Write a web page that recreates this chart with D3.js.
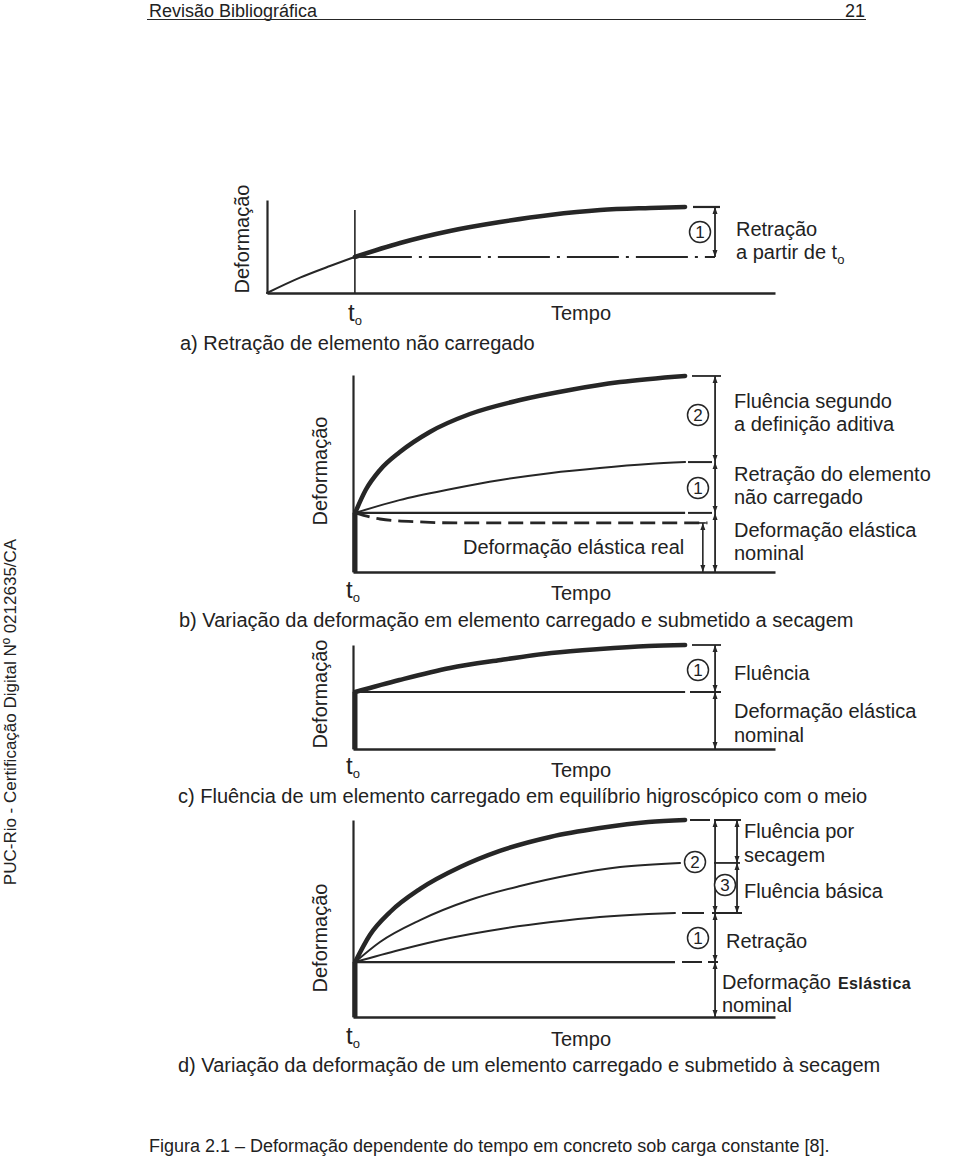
<!DOCTYPE html>
<html>
<head>
<meta charset="utf-8">
<script src="https://cdn.jsdelivr.net/npm/d3@7/dist/d3.min.js"></script>
<style>
  html, body { margin: 0; padding: 0; background: #fff; }
  svg { display: block; }
  text { font-family: "Liberation Sans", Arial, sans-serif; fill: #222; }
</style>
</head>
<body>
<svg id="chart" width="960" height="1156"></svg>
<script>
// ---------------- DATA (normalised units: time 0-100, deformation 0-100 per panel) ----------------
// Panel a) shrinkage of unloaded element
const aTime      = [0, 6.5, 12.4, 17.3, 26.2, 36, 45.9, 55.7, 65.6, 75.4, 82.3];
const aShrinkage = [0, 16.5, 29, 38.7, 53.8, 66.7, 76.3, 83.9, 89.2, 91.4, 92.5];
const aT0 = 17.3;

// Panel b) loaded + drying
const bTotalTime   = [0.5, 3, 6.4, 11.1, 18.2, 27.7, 39.6, 51.4, 63.3, 78.7];
const bTotal       = [30, 41.6, 51.8, 60.9, 71.1, 80.2, 87.3, 92.4, 96.4, 99.5];
const bShrinkTime  = [0.5, 11, 23, 35, 47, 58.5, 70, 78.7];
const bShrink      = [30, 36.5, 42, 46.7, 50.3, 52.8, 54.8, 55.8];
const bElasticNominal = 30;
const bRealTime    = [0.5, 6.4, 15.9, 25.4, 84];
const bRealElastic = [30, 26.9, 25.4, 24.9, 24.9];

// Panel c) creep in hygral equilibrium
const cTime  = [0.5, 11, 23, 35, 47, 58.5, 70, 78.7];
const cCreep = [54.8, 66.3, 77.9, 85.6, 92.3, 96.2, 99, 100];
const cElasticNominal = 54.8;

// Panel d) loaded + drying, decomposed
const dTotalTime = [0.5, 4, 8.8, 15.9, 25.4, 34.8, 46.7, 58.5, 70, 78.7];
const dTotal     = [27.9, 41.6, 53.3, 65, 76.1, 84.3, 91.4, 95.9, 99, 100];
const dBasicTime = [0.5, 6.4, 15.9, 27.7, 39.6, 51.4, 63.3, 77.5];
const dBasic     = [27.9, 38.1, 49.2, 59.4, 66.5, 72.1, 76.1, 78.2];
const dShrinkTime= [0.5, 11, 23, 35, 47, 58.5, 70, 76.3];
const dShrink    = [27.9, 34, 40.1, 44.7, 48.2, 50.8, 52.3, 52.8];
const dElasticNominal = 27.9;

// Text labels
const axisY = "Deformação";
const axisX = "Tempo";
const captions = [
  "a) Retração de elemento não carregado",
  "b) Variação da deformação em elemento carregado e submetido a secagem",
  "c) Fluência de um elemento carregado em equilíbrio higroscópico com o meio",
  "d) Variação da deformação de um elemento carregado e submetido à secagem"
];

// ---------------- DRAWING ----------------
const svg = d3.select("#chart");
const INK = "#262626";
const zip = (xs, ys) => xs.map((x, i) => [x, ys[i]]);

function makeScales(x0, x1, yBottom, yTop) {
  return {
    x: d3.scaleLinear().domain([0, 100]).range([x0, x1]),
    y: d3.scaleLinear().domain([0, 100]).range([yBottom, yTop])
  };
}
function curve(g, s, pts, w, dash) {
  const line = d3.line().x(d => s.x(d[0])).y(d => s.y(d[1])).curve(d3.curveMonotoneX);
  const p = g.append("path").attr("d", line(pts)).attr("fill", "none")
    .attr("stroke", INK).attr("stroke-width", w).attr("stroke-linecap", "round");
  if (dash) p.attr("stroke-dasharray", dash).attr("stroke-linecap", "butt");
  return p;
}
function seg(g, x1, y1, x2, y2, w, dash) {
  const l = g.append("line").attr("x1", x1).attr("y1", y1).attr("x2", x2).attr("y2", y2)
    .attr("stroke", INK).attr("stroke-width", w || 1.6);
  if (dash) l.attr("stroke-dasharray", dash);
  return l;
}
function arrowHead(g, x, y, dir) { // dir: -1 up, 1 down
  g.append("path").attr("d", `M${x},${y} L${x - 2.5},${y - dir * 7} L${x + 2.5},${y - dir * 7} Z`).attr("fill", INK);
}
function bracket(g, x, yTop, yBot, w) {
  seg(g, x, yTop, x, yBot, w || 1.8);
  arrowHead(g, x, yTop, -1);
  arrowHead(g, x, yBot, 1);
}
function txt(g, x, y, s, opts) {
  opts = opts || {};
  const t = g.append("text").attr("x", x).attr("y", y).attr("font-size", opts.size || 20).text(s);
  if (opts.weight) t.attr("font-weight", opts.weight);
  if (opts.anchor) t.attr("text-anchor", opts.anchor);
  return t;
}
function circled(g, cx, cy, n) {
  g.append("circle").attr("cx", cx).attr("cy", cy).attr("r", 10.5).attr("fill", "#fff")
    .attr("stroke", INK).attr("stroke-width", 1.5);
  g.append("text").attr("x", cx).attr("y", cy + 6).attr("text-anchor", "middle")
    .attr("font-size", 17).text(n);
}
function axes(g, s, yTopPx) {
  const xa = d3.axisBottom(s.x).tickValues([]).tickSizeOuter(0);
  const gx = g.append("g").attr("transform", `translate(0,${s.y(0)})`).call(xa);
  gx.select(".domain").attr("stroke", INK).attr("stroke-width", 2.6);
  const ya = d3.axisLeft(s.y.copy().range([s.y(0), yTopPx])).tickValues([]).tickSizeOuter(0);
  const gy = g.append("g").attr("transform", `translate(${s.x(0)},0)`).call(ya);
  gy.select(".domain").attr("stroke", INK).attr("stroke-width", 2.2);
}
function t0Label(g, x, y) {
  const t = g.append("text").attr("x", x).attr("y", y).attr("font-size", 24).attr("text-anchor", "middle");
  t.append("tspan").text("t");
  t.append("tspan").attr("font-size", 13).attr("dy", 4).text("o");
}
function yTitle(g, x, yc) {
  g.append("text").attr("transform", `translate(${x},${yc}) rotate(-90)`)
    .attr("text-anchor", "middle").attr("font-size", 20).text(axisY);
}

// Header
txt(svg, 149, 17, "Revisão Bibliográfica", { size: 18 });
txt(svg, 865, 17, "21", { size: 18, anchor: "end" });
seg(svg, 147, 19.5, 866, 19.5, 1.2);

// Side stamp
svg.append("text").attr("transform", "translate(16,712) rotate(-90)").attr("text-anchor", "middle")
  .attr("font-size", 17).attr("fill", "#111").text("PUC-Rio - Certificação Digital Nº 0212635/CA");

// Footer
txt(svg, 149, 1152, "Figura 2.1 – Deformação dependente do tempo em concreto sob carga constante [8].", { size: 18 });

// ---------- Panel a ----------
{
  const g = svg.append("g");
  const s = makeScales(267, 775, 293, 200);
  axes(g, s, 200);
  seg(g, s.x(aT0), 210, s.x(aT0), s.y(0), 1.6);
  const pts = zip(aTime, aShrinkage);
  curve(g, s, pts, 2);
  curve(g, s, pts.filter(d => d[0] >= aT0), 4.5);
  const yT0 = s.y(aShrinkage[aTime.indexOf(aT0)]);
  const yEnd = s.y(aShrinkage[aShrinkage.length - 1]);
  seg(g, s.x(aT0) + 5, yT0, 715, yT0, 1.8, "52,7,3,7");
  seg(g, 693, yEnd, 720, yEnd, 2.2);
  bracket(g, 715, yEnd, yT0, 1.8);
  circled(g, 700, 232, "1");
  txt(g, 736, 236, "Retração");
  const t = txt(g, 736, 259, "a partir de t");
  t.append("tspan").attr("font-size", 13).attr("dy", 5).text("o");
  yTitle(g, 249, 239);
  t0Label(g, 355, 321);
  txt(g, 551, 320, axisX);
  txt(g, 180, 350, captions[0]);
}

// ---------- Panel b ----------
{
  const g = svg.append("g");
  const s = makeScales(353, 775, 572, 375);
  axes(g, s, 375);
  seg(g, 355, s.y(bElasticNominal), 355, s.y(0), 5);
  curve(g, s, zip(bRealTime, bRealElastic), 2.8, "15,7");
  seg(g, s.x(0.5), s.y(bElasticNominal), s.x(78.7), s.y(bElasticNominal), 2.4);
  curve(g, s, zip(bShrinkTime, bShrink), 2);
  curve(g, s, zip(bTotalTime, bTotal), 4.5);
  const xb = s.x(85.8);
  seg(g, 692, s.y(99.5), 721, s.y(99.5), 1.8);
  seg(g, 688, s.y(55.8), 712, s.y(55.8), 2);
  seg(g, 688, s.y(bElasticNominal), 712, s.y(bElasticNominal), 2);
  bracket(g, xb, s.y(99.5), s.y(55.8));
  bracket(g, xb, s.y(55.8), s.y(bElasticNominal));
  bracket(g, xb, s.y(bElasticNominal), s.y(0));
  const xr = s.x(82.9);
  seg(g, xr - 6, s.y(24.9), xr + 3, s.y(24.9), 1.6);
  bracket(g, xr, s.y(24.9), s.y(0), 1.6);
  circled(g, 698, 415, "2");
  circled(g, 698, 488, "1");
  txt(g, 734, 408, "Fluência segundo");
  txt(g, 734, 431, "a definição aditiva");
  txt(g, 734, 481, "Retração do elemento");
  txt(g, 734, 504, "não carregado");
  txt(g, 734, 537, "Deformação elástica");
  txt(g, 734, 560, "nominal");
  txt(g, 463, 554, "Deformação elástica real");
  yTitle(g, 327, 471);
  t0Label(g, 353, 598);
  txt(g, 551, 600, axisX);
  txt(g, 179, 627, captions[1]);
}

// ---------- Panel c ----------
{
  const g = svg.append("g");
  const s = makeScales(353, 775, 749, 645);
  axes(g, s, 645);
  seg(g, 355, s.y(cElasticNominal), 355, s.y(0), 5);
  seg(g, s.x(0.5), s.y(cElasticNominal), s.x(78.7), s.y(cElasticNominal), 2.2);
  curve(g, s, zip(cTime, cCreep), 4.5);
  const xb = s.x(85.8);
  seg(g, 692, s.y(100), 721, s.y(100), 1.8);
  seg(g, 690, s.y(cElasticNominal), 721, s.y(cElasticNominal), 2);
  bracket(g, xb, s.y(100), s.y(cElasticNominal));
  bracket(g, xb, s.y(cElasticNominal), s.y(0));
  circled(g, 698, 670, "1");
  txt(g, 734, 680, "Fluência");
  txt(g, 734, 718, "Deformação elástica");
  txt(g, 734, 742, "nominal");
  yTitle(g, 327, 694);
  t0Label(g, 353, 774);
  txt(g, 551, 777, axisX);
  txt(g, 178, 803, captions[2]);
}

// ---------- Panel d ----------
{
  const g = svg.append("g");
  const s = makeScales(353, 775, 1017, 820);
  axes(g, s, 820);
  seg(g, 355, s.y(dElasticNominal), 355, s.y(0), 5);
  seg(g, s.x(0.5), s.y(dElasticNominal), s.x(76.3), s.y(dElasticNominal), 2.2);
  curve(g, s, zip(dShrinkTime, dShrink), 2);
  curve(g, s, zip(dBasicTime, dBasic), 2);
  curve(g, s, zip(dTotalTime, dTotal), 4.5);
  const xb = s.x(85.8), xi = s.x(91);
  seg(g, 690, s.y(100), 741, s.y(100), 1.8, "20,4,40");
  seg(g, 714, s.y(78.2), 740, s.y(78.2), 1.8);
  seg(g, 682, s.y(52.8), 742, s.y(52.8), 2, "22,8,40");
  seg(g, 682, s.y(dElasticNominal), 718, s.y(dElasticNominal), 2, "20,6,30");
  bracket(g, xb, s.y(100), s.y(52.8));
  bracket(g, xb, s.y(52.8), s.y(dElasticNominal));
  bracket(g, xb, s.y(dElasticNominal), s.y(0));
  bracket(g, xi, s.y(100), s.y(78.2), 1.8);
  bracket(g, xi, s.y(78.2), s.y(52.8), 1.8);
  circled(g, 695, 862, "2");
  circled(g, 725, 885, "3");
  circled(g, 698, 938, "1");
  txt(g, 744, 838, "Fluência por");
  txt(g, 744, 862, "secagem");
  txt(g, 744, 898, "Fluência básica");
  txt(g, 726, 948, "Retração");
  txt(g, 722, 989, "Deformação");
  txt(g, 838, 989, "Eslástica", { size: 16, weight: "bold" }).attr("fill", "#000").attr("letter-spacing", 0.4);
  txt(g, 722, 1012, "nominal");
  yTitle(g, 327, 938);
  t0Label(g, 353, 1044);
  txt(g, 551, 1046, axisX);
  txt(g, 178, 1072, captions[3]);
}
</script>
</body>
</html>
